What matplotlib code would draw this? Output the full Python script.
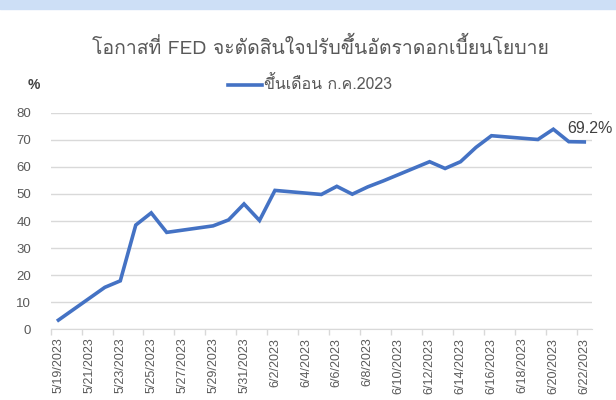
import matplotlib
matplotlib.use("Agg")
import matplotlib.pyplot as plt
from matplotlib import font_manager
from matplotlib.ft2font import FT2Font
from matplotlib.lines import Line2D
from matplotlib.patches import Rectangle
import datetime as dt

# ---------------- data ----------------
dates = ["2023-05-19", "2023-05-22", "2023-05-23", "2023-05-24", "2023-05-25",
         "2023-05-26", "2023-05-29", "2023-05-30", "2023-05-31", "2023-06-01",
         "2023-06-02", "2023-06-05", "2023-06-06", "2023-06-07", "2023-06-08",
         "2023-06-09", "2023-06-12", "2023-06-13", "2023-06-14", "2023-06-15",
         "2023-06-16", "2023-06-19", "2023-06-20", "2023-06-21", "2023-06-22"]
values = [3.4, 15.5, 17.9, 38.5, 43.0,
          35.8, 38.2, 40.4, 46.3, 40.2,
          51.3, 49.8, 52.8, 49.9, 52.6,
          54.8, 61.9, 59.4, 61.9, 67.2,
          71.5, 70.1, 73.9, 69.3, 69.2]
tick_labels = ["5/19/2023", "5/21/2023", "5/23/2023", "5/25/2023", "5/27/2023",
               "5/29/2023", "5/31/2023", "6/2/2023", "6/4/2023", "6/6/2023",
               "6/8/2023", "6/10/2023", "6/12/2023", "6/14/2023", "6/16/2023",
               "6/18/2023", "6/20/2023", "6/22/2023"]
y_ticks = [0, 10, 20, 30, 40, 50, 60, 70, 80]
title = "โอกาสที่ FED จะตัดสินใจปรับขึ้นอัตราดอกเบี้ยนโยบาย"
series_name = "ขึ้นเดือน ก.ค.2023"
y_unit = "%"
last_label = "69.2%"

# ---------------- fonts ----------------
def thai_fonts():
    found = []
    for f in font_manager.fontManager.ttflist:
        try:
            cm = FT2Font(f.fname).get_charmap()
        except Exception:
            continue
        if 0x0E01 in cm and 0x0E35 in cm and f.name not in found:
            found.append(f.name)
    return found

tf = thai_fonts()
fam = tf + ["Open Sans", "DejaVu Sans"]
plt.rcParams["font.family"] = fam

# ---------------- figure ----------------
W, H = 616, 400
fig = plt.figure(figsize=(W / 100, H / 100), dpi=100)
fig.patch.set_facecolor("white")

# top decorative band
fig.patches.append(Rectangle((0, 1 - 9 / H), 1, 9 / H, transform=fig.transFigure,
                             color="#cddff6", zorder=0))

left, right, top, bottom = 50.7, 592.0, 112.7, 329.3
ax = fig.add_axes([left / W, 1 - bottom / H, (right - left) / W, (bottom - top) / H])

start = dt.date(2023, 5, 19)
xs = [(dt.date.fromisoformat(d) - start).days for d in dates]
ax.plot(xs, values, color="#4472C4", lw=2.6, solid_joinstyle="miter", zorder=3)

ax.set_xlim(-0.5, 34.5)
ax.set_ylim(0, 80)
ax.set_yticks(y_ticks)
ax.set_yticklabels([str(v) for v in y_ticks])
label_pos = list(range(0, 35, 2))
ax.set_xticks(label_pos)
ax.set_xticklabels(tick_labels, rotation=90)
ax.set_xticks([p - 0.5 for p in label_pos], minor=True)

ax.tick_params(axis="x", which="major", length=0, pad=6, labelsize=9,
               labelcolor="#595959")
ax.tick_params(axis="x", which="minor", length=4, color="#d9d9d9", width=1)
ax.tick_params(axis="y", length=0, pad=14, labelsize=9.5, labelcolor="#595959")
for lab in ax.get_xticklabels():
    lab.set_fontfamily(["Liberation Sans", "DejaVu Sans"])
for lab in ax.get_yticklabels():
    lab.set_fontfamily(["Liberation Sans", "DejaVu Sans"])

for s in ["top", "right", "left"]:
    ax.spines[s].set_visible(False)
ax.spines["bottom"].set_color("#d9d9d9")
ax.yaxis.grid(True, color="#d9d9d9", lw=1)
ax.set_axisbelow(True)

# title
fig.text(320 / W, 1 - 47 / H, title, ha="center", va="center", fontsize=14,
         color="#595959")
# legend
fig.lines.append(Line2D([228 / W, 262 / W], [1 - 85 / H, 1 - 85 / H],
                        transform=fig.transFigure, color="#4472C4", lw=2.6))
fig.text(264 / W, 1 - 85 / H, series_name, ha="left", va="center", fontsize=11.5,
         color="#595959")
# unit
fig.text(28 / W, 1 - 85 / H, y_unit, ha="left", va="center", fontsize=10,
         color="#404040", fontweight="bold", family=["Liberation Sans", "DejaVu Sans"])
# last value label
ax.annotate(last_label, xy=(xs[-1], values[-1]), xytext=(-12, 10),
            textcoords="offset points", ha="left", va="center", fontsize=11.5,
            color="#404040", family=["Liberation Sans", "DejaVu Sans"],
            annotation_clip=False)

fig.savefig("out.png", dpi=100)
